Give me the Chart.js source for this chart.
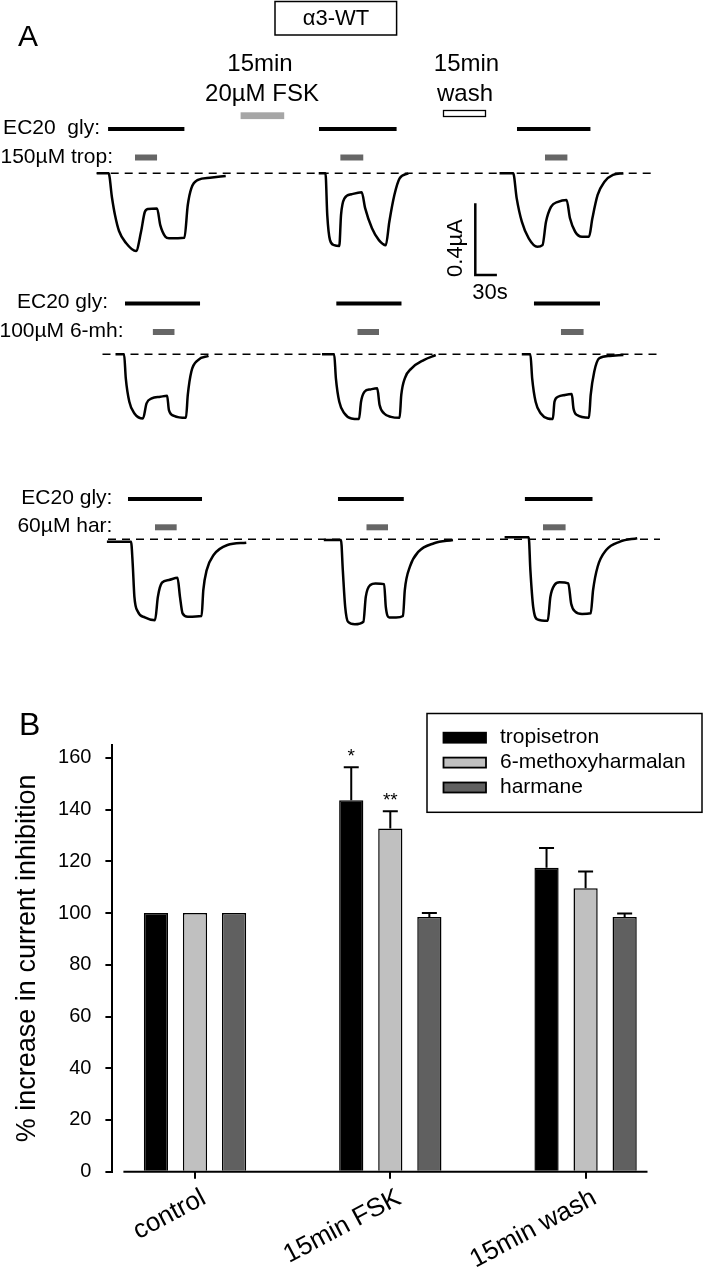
<!DOCTYPE html>
<html>
<head>
<meta charset="utf-8">
<script src="https://cdn.jsdelivr.net/npm/chart.js@4.4.1/dist/chart.umd.min.js"></script>
<style>
  html, body { margin: 0; padding: 0; background: #fff; }
  #wrap { position: relative; width: 705px; height: 1270px; }
  canvas { position: absolute; left: 0; }
  #traces { top: 0; }
  #bars { top: 640px; }
</style>
</head>
<body>
<div id="wrap">
  <canvas id="traces" width="705" height="640"></canvas>
  <canvas id="bars" width="705" height="630"></canvas>
</div>
<script>
// ---------- panel A data: time (s) from trace start, current (uA) from baseline ----------
const trop_ctrl = [[0,0],[16.5,0],[21.3,-0.138],[25.4,-0.233],[31.0,-0.322],[40.7,-0.389],[54.6,-0.434],[61.5,-0.328],[66.8,-0.216],[71.3,-0.199],[83.8,-0.196],[88.3,-0.289],[95.4,-0.354],[100.4,-0.363],[121.8,-0.360],[126.5,-0.177],[131.4,-0.084],[140.7,-0.037],[157.4,-0.025],[179.2,-0.015]];
const trop_fsk = [[0,0],[9.4,0],[11.9,-0.233],[15.7,-0.373],[21.5,-0.401],[28.6,-0.406],[31.0,-0.233],[35.8,-0.140],[45.4,-0.117],[59.7,-0.106],[64.6,-0.196],[74.0,-0.307],[83.6,-0.373],[93.2,-0.401],[98.1,-0.270],[105.1,-0.121],[112.4,-0.028],[124.3,0]];
const trop_wash = [[0,0],[19.0,0],[23.9,-0.140],[31.0,-0.270],[40.6,-0.363],[52.5,-0.410],[59.7,-0.401],[64.6,-0.270],[71.5,-0.187],[81.3,-0.159],[93.2,-0.149],[97.9,-0.251],[105.1,-0.326],[114.6,-0.354],[124.3,-0.354],[129.0,-0.251],[136.3,-0.121],[145.8,-0.047],[157.6,-0.009],[172.1,0]];

const mh_ctrl = [[0,0],[11.9,0],[14.3,-0.134],[19.2,-0.265],[26.3,-0.330],[38.2,-0.358],[43.1,-0.274],[50.3,-0.246],[62.2,-0.237],[71.7,-0.231],[74.2,-0.311],[81.3,-0.343],[97.9,-0.354],[100.4,-0.227],[105.3,-0.097],[114.7,-0.032],[129.2,-0.009]];
const mh_fsk = [[0,0],[16.9,0],[19.3,-0.134],[24.0,-0.265],[31.3,-0.330],[40.8,-0.358],[51.4,-0.361],[54.2,-0.265],[59.0,-0.209],[67.1,-0.196],[76.7,-0.190],[80.0,-0.283],[86.3,-0.330],[95.8,-0.349],[107.8,-0.354],[110.1,-0.227],[115.0,-0.134],[124.4,-0.078],[141.3,-0.032],[157.9,-0.004]];
const mh_wash = [[0,0],[11.9,0],[14.4,-0.134],[19.2,-0.265],[26.4,-0.330],[36.0,-0.358],[43.1,-0.361],[45.4,-0.265],[50.3,-0.237],[59.9,-0.227],[69.4,-0.222],[71.8,-0.302],[76.7,-0.339],[93.3,-0.354],[95.7,-0.227],[100.6,-0.097],[107.6,-0.022],[122.0,-0.009],[141.1,-0.004]];

const har_ctrl = [[0,-0.013],[33.5,-0.013],[35.8,-0.134],[38.2,-0.321],[43.1,-0.404],[52.6,-0.436],[66.9,-0.451],[70.8,-0.321],[76.5,-0.242],[86.1,-0.227],[98.1,-0.215],[101.5,-0.321],[105.1,-0.413],[112.4,-0.432],[131.5,-0.428],[133.9,-0.283],[138.6,-0.172],[148.2,-0.088],[167.4,-0.032],[193.6,-0.019]];
const har_fsk = [[0,-0.004],[23.9,-0.004],[26.4,-0.172],[29.7,-0.377],[33.6,-0.460],[43.1,-0.474],[55.0,-0.460],[58.3,-0.321],[64.6,-0.255],[71.8,-0.246],[83.8,-0.250],[86.1,-0.377],[91.0,-0.436],[100.4,-0.436],[110.0,-0.428],[112.5,-0.283],[119.6,-0.153],[131.5,-0.069],[153.1,-0.022],[179.4,-0.004]];
const har_wash = [[0,0.011],[33.5,0.011],[35.8,-0.172],[39.7,-0.377],[45.4,-0.447],[59.9,-0.455],[63.6,-0.321],[69.3,-0.255],[76.5,-0.240],[88.5,-0.246],[92.4,-0.358],[98.1,-0.404],[107.6,-0.417],[119.6,-0.413],[122.9,-0.283],[129.2,-0.153],[141.1,-0.060],[160.3,-0.013],[184.2,0.006]];

// application periods (s from trace start): [on, off] for control / FSK / wash
const glyTrop = [[15.8,121.8],[0.4,108.2],[24.3,126.3]];
const tropOn  = [[53.2,83.8],[30.1,61.9],[63.2,94.3]];
const glyMh   = [[13.2,117.4],[19.9,110.4],[16.9,108.6]];
const mhOn    = [[51.9,81.9],[49.3,79.2],[54.4,85.8]];
const glyHar  = [[29.3,132.1],[19.7,111.1],[28.2,122.1]];
const harOn   = [[66.8,96.9],[59.3,89.2],[53.3,84.7]];

const scaleBarSec = 30;
const scaleBarUA = 0.4;

// ---------- panel B data ----------
const conditions = ['control', '15min FSK', '15min wash'];
const tropisetron = [100, 143.6, 117.5];
const tropisetronErr = [0, 12.8, 7.7];
const methoxyharmalan = [100, 132.7, 109.6];
const methoxyharmalanErr = [0, 6.7, 6.5];
const harmane = [100, 98.5, 98.5];
const harmaneErr = [0, 1.5, 1.3];
const yTicks = [0, 20, 40, 60, 80, 100, 120, 140, 160];
const stars = [['', '*', ''], ['', '**', ''], ['', '', '']];

// ---------- panel A layout (pixels) ----------
const PX_PER_S = 21.6 / 30;
const PX_PER_UA = 71.7 / 0.4;
const sx = px => px / PX_PER_S;
const sy = py => -py / PX_PER_UA;

const rows = [
  { traces: [trop_ctrl, trop_fsk, trop_wash], gly: glyTrop, drug: tropOn,
    x0: [96.7, 318.7, 499.5], base: 173.3, glyY: 129, drugY: 157.5, dash: [96.7, 654] },
  { traces: [mh_ctrl, mh_fsk, mh_wash], gly: glyMh, drug: mhOn,
    x0: [115.5, 322, 521.8], base: 354.3, glyY: 303.5, drugY: 332, dash: [102.5, 656.5] },
  { traces: [har_ctrl, har_fsk, har_wash], gly: glyHar, drug: harOn,
    x0: [106.9, 323.8, 504.6], base: 539.3, glyY: 499, drugY: 527.3, dash: [108, 660] }
];

const FONT = '"Liberation Sans", Arial, Helvetica, sans-serif';
const f = s => s + 'px ' + FONT;

const traceSets = [];
rows.forEach(r => {
  traceSets.push({
    data: [{x: sx(r.dash[0]), y: sy(r.base)}, {x: sx(r.dash[1]), y: sy(r.base)}],
    borderColor: '#000', borderWidth: 1.5, borderDash: [8, 6]
  });
  r.traces.forEach((tr, c) => {
    const t0 = sx(r.x0[c]), i0 = sy(r.base);
    traceSets.push({
      data: tr.map(p => ({x: t0 + p[0], y: i0 + p[1]})),
      borderColor: '#000', borderWidth: 2.5, cubicInterpolationMode: 'monotone'
    });
    traceSets.push({
      data: r.gly[c].map(t => ({x: t0 + t, y: sy(r.glyY)})),
      borderColor: '#000', borderWidth: 4
    });
    traceSets.push({
      data: r.drug[c].map(t => ({x: t0 + t, y: sy(r.drugY)})),
      borderColor: '#666', borderWidth: 6
    });
  });
});
// scale bar, corner at (475.3, 275)
const sbx = sx(475.3), sby = sy(275);
traceSets.push({
  data: [{x: sbx, y: sby + scaleBarUA}, {x: sbx, y: sby}, {x: sbx + scaleBarSec, y: sby}],
  borderColor: '#000', borderWidth: 2.5
});

const panelALabels = {
  id: 'panelALabels',
  afterDraw(chart) {
    const ctx = chart.ctx;
    ctx.save();
    ctx.fillStyle = '#000';
    ctx.textBaseline = 'middle';
    const txt = (s, x, y, size, align) => { ctx.font = f(size); ctx.textAlign = align; ctx.fillText(s, x, y); };
    txt('A', 18, 38, 30, 'left');
    ctx.lineWidth = 1.5; ctx.strokeStyle = '#000';
    ctx.strokeRect(275, 1.5, 121.6, 33.5);
    txt('\u03b13-WT', 336, 19, 22, 'center');
    txt('15min', 260, 64, 24, 'center');
    txt('20\u00b5M FSK', 262, 94, 24, 'center');
    txt('15min', 466.5, 64, 24, 'center');
    txt('wash', 465, 94, 24, 'center');
    ctx.fillStyle = '#a6a6a6';
    ctx.fillRect(240.6, 112.3, 43.6, 6.8);
    ctx.fillStyle = '#000';
    ctx.lineWidth = 1.3;
    ctx.strokeRect(443.5, 110.5, 42, 6);
    txt('EC20  gly:', 100, 128, 21, 'right');
    txt('150\u00b5M trop:', 113, 157, 21, 'right');
    txt('EC20 gly:', 108, 302.7, 21, 'right');
    txt('100\u00b5M 6-mh:', 123.6, 331.7, 21, 'right');
    txt('EC20 gly:', 112.4, 498.3, 21, 'right');
    txt('60\u00b5M har:', 112.4, 526.7, 21, 'right');
    txt('30s', 490, 293, 22, 'center');
    ctx.save();
    ctx.translate(456.4, 248);
    ctx.rotate(-Math.PI / 2);
    txt('0.4\u00b5A', 0, 0, 22, 'center');
    ctx.restore();
    ctx.restore();
  }
};

new Chart(document.getElementById('traces'), {
  type: 'scatter',
  data: { datasets: traceSets },
  options: {
    responsive: false, animation: false,
    layout: { padding: 0 },
    showLine: true,
    elements: { point: { radius: 0 }, line: { borderCapStyle: 'butt', fill: false } },
    plugins: { legend: { display: false }, tooltip: { enabled: false } },
    scales: {
      x: { type: 'linear', display: false, min: 0, max: sx(705) },
      y: { type: 'linear', display: false, min: sy(640), max: 0 }
    }
  },
  plugins: [panelALabels]
});

// ---------- panel B ----------
const errs = [tropisetronErr, methoxyharmalanErr, harmaneErr];

const errorBars = {
  id: 'errorBars',
  afterDatasetsDraw(chart) {
    const ctx = chart.ctx, ys = chart.scales.y;
    ctx.save();
    ctx.strokeStyle = '#000'; ctx.fillStyle = '#000'; ctx.lineWidth = 2;
    chart.data.datasets.forEach((ds, i) => {
      chart.getDatasetMeta(i).data.forEach((bar, j) => {
        const e = errs[i][j];
        if (!e) return;
        const top = ys.getPixelForValue(ds.data[j].y + e);
        ctx.beginPath();
        ctx.moveTo(bar.x, bar.y); ctx.lineTo(bar.x, top);
        ctx.moveTo(bar.x - 7.5, top); ctx.lineTo(bar.x + 7.5, top);
        ctx.stroke();
        if (stars[i][j]) {
          ctx.font = f(19); ctx.textAlign = 'center'; ctx.textBaseline = 'alphabetic';
          ctx.fillText(stars[i][j], bar.x, top - 5);
        }
      });
    });
    // x baseline, starts a little right of the y axis
    const y0 = ys.getPixelForValue(0);
    ctx.beginPath();
    ctx.moveTo(chart.chartArea.left + 11, y0); ctx.lineTo(chart.chartArea.right, y0);
    ctx.stroke();
    ctx.restore();
  },
  afterDraw(chart) {
    const ctx = chart.ctx;
    ctx.save();
    ctx.fillStyle = '#000';
    ctx.font = f(32); ctx.textAlign = 'left'; ctx.textBaseline = 'middle';
    ctx.fillText('B', 19, 86);
    // legend
    ctx.lineWidth = 1.5; ctx.strokeStyle = '#000';
    ctx.strokeRect(427, 73.5, 275, 98.8);
    chart.data.datasets.forEach((ds, i) => {
      const cy = 97.7 + i * 24.9;
      ctx.fillStyle = ds.backgroundColor;
      ctx.fillRect(443.5, cy - 5, 42.5, 10);
      ctx.lineWidth = 1.8;
      ctx.strokeRect(443.5, cy - 5, 42.5, 10);
      ctx.fillStyle = '#000';
      ctx.font = f(21); ctx.textBaseline = 'middle';
      ctx.fillText(ds.label, 500, cy);
    });
    ctx.restore();
  }
};

const mk = (label, vals, color) => ({
  label, backgroundColor: color, borderColor: '#000', borderWidth: 1.5,
  data: vals.map((v, i) => ({x: i, y: v}))
});

new Chart(document.getElementById('bars'), {
  type: 'bar',
  data: {
    datasets: [
      mk('tropisetron', tropisetron, '#000000'),
      mk('6-methoxyharmalan', methoxyharmalan, '#c0c0c0'),
      mk('harmane', harmane, '#606060')
    ]
  },
  options: {
    responsive: false, animation: false,
    layout: { padding: { top: 105, right: 57.5, left: 0, bottom: 0 } },
    datasets: { bar: { categoryPercentage: 0.6, barPercentage: 0.62 } },
    plugins: { legend: { display: false }, tooltip: { enabled: false } },
    scales: {
      x: {
        type: 'linear', min: -0.423, max: 2.317, offset: false,
        afterBuildTicks: s => { s.ticks = conditions.map((c, i) => ({value: i})); },
        afterFit: s => { s.height = 98.3; },
        border: { display: false },
        grid: { offset: false, drawOnChartArea: false, tickLength: 7, color: '#000', lineWidth: 2 },
        ticks: {
          autoSkip: false, minRotation: 28, maxRotation: 28, padding: 4, labelOffset: 9,
          color: '#000', font: { family: FONT, size: 26 },
          callback: v => conditions[v]
        }
      },
      y: {
        min: 0, max: 165,
        afterBuildTicks: s => { s.ticks = yTicks.map(v => ({value: v})); },
        afterFit: s => { s.width = 112.4; },
        border: { display: true, color: '#000', width: 2 },
        grid: { drawOnChartArea: false, tickLength: 7, color: '#000', lineWidth: 2 },
        ticks: { color: '#000', padding: 14, font: { family: FONT, size: 20 } },
        title: {
          display: true, text: '% increase in current inhibition', color: '#000',
          font: { family: FONT, size: 27 }, padding: { top: 11, bottom: 0 }
        }
      }
    }
  },
  plugins: [errorBars]
});
</script>
</body>
</html>
